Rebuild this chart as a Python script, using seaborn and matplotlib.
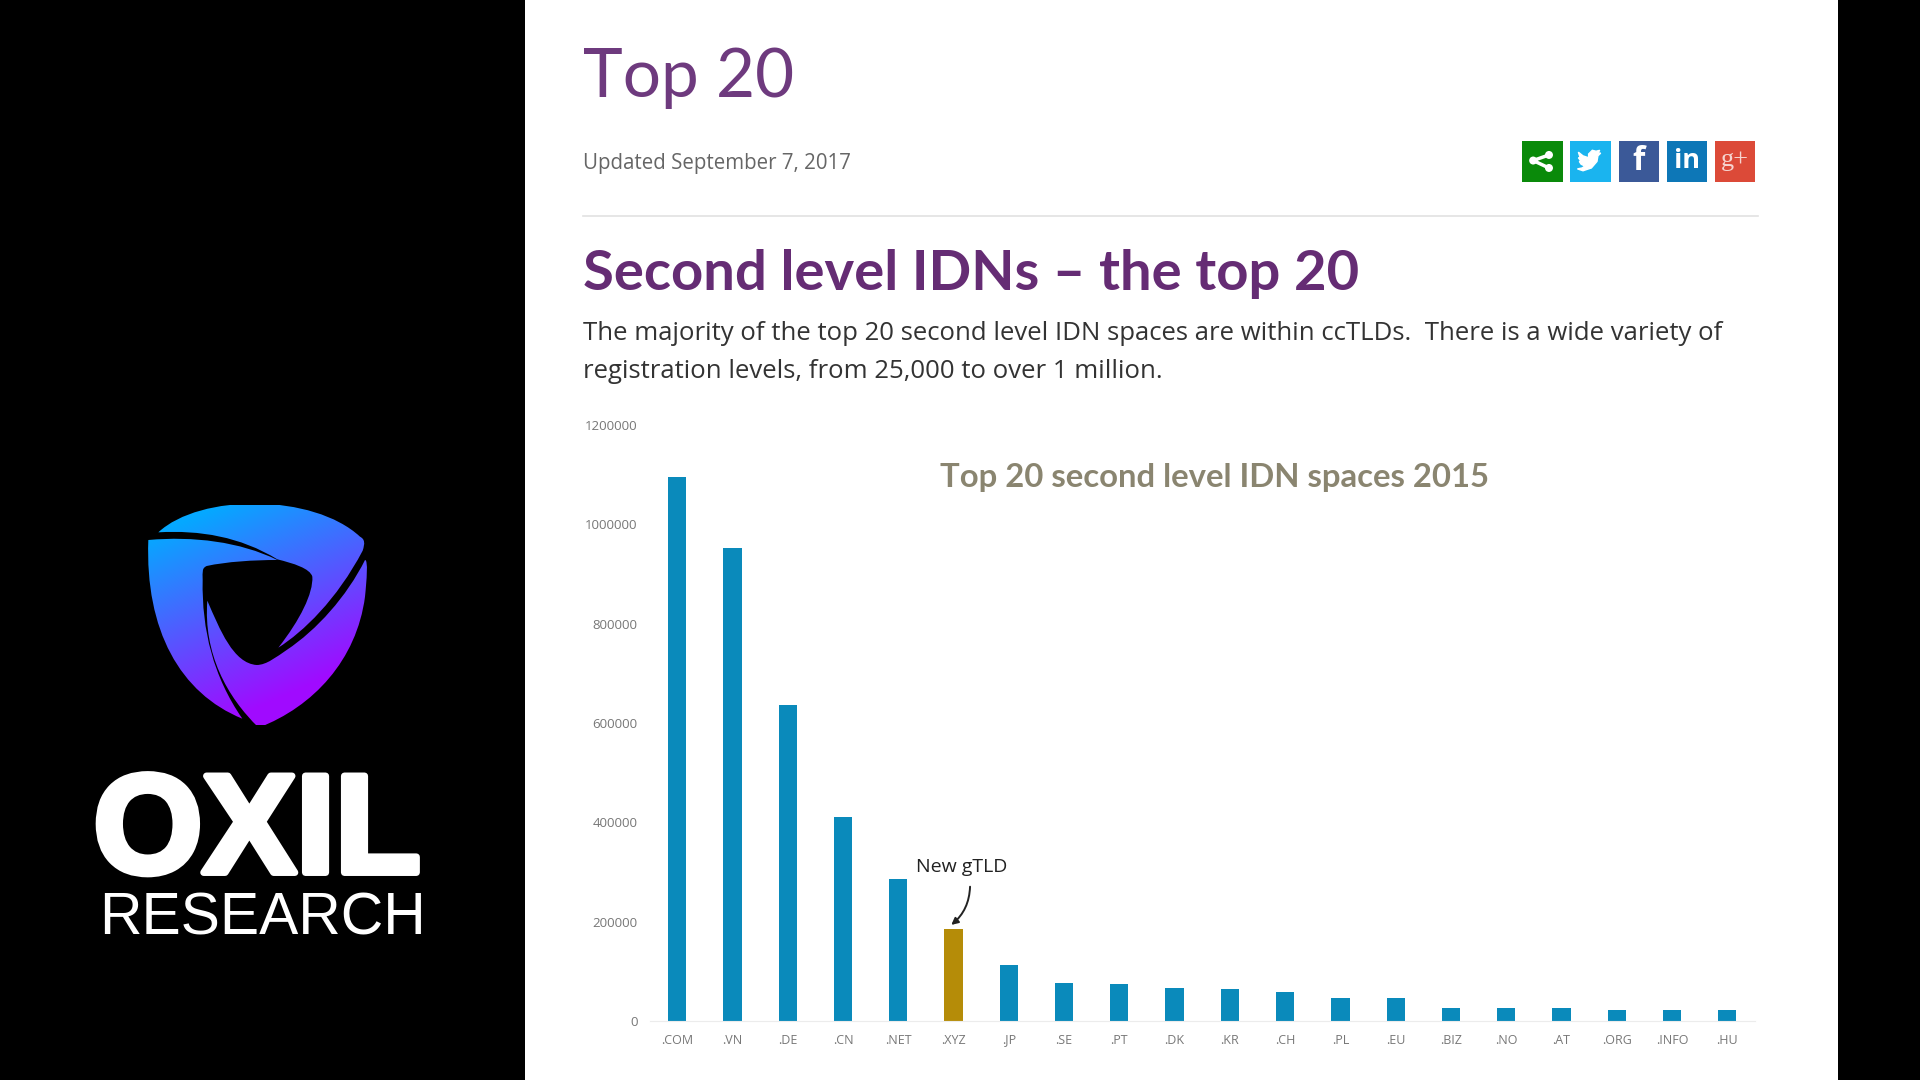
import pandas as pd
import matplotlib.pyplot as plt
import matplotlib.patheffects as pe
import seaborn as sns
import numpy as np
from matplotlib.path import Path
from matplotlib.patches import PathPatch, Rectangle, Circle

BLUE = "#0a8abb"
GOLD = "#b58c08"
PURPLE = "#652c74"


def load_data() -> pd.DataFrame:
    rows = [
        (".COM", 1096000), (".VN", 953000), (".DE", 636000), (".CN", 411000),
        (".NET", 286000), (".XYZ", 185000), (".JP", 113000), (".SE", 76000),
        (".PT", 74000), (".DK", 67000), (".KR", 64000), (".CH", 59000),
        (".PL", 47000), (".EU", 47000), (".BIZ", 27000), (".NO", 27000),
        (".AT", 26000), (".ORG", 22000), (".INFO", 22000), (".HU", 22000),
    ]
    df = pd.DataFrame(rows, columns=["tld", "regs"])
    df["kind"] = ["new" if t == ".XYZ" else "old" for t in df["tld"]]
    return df


def curve(start, *segments):
    """Build a closed path from cubic segments"""
    verts = [start]
    codes = [Path.MOVETO]
    for seg in segments:
        verts.extend(seg)
        codes.extend([Path.CURVE4] * 3)
    verts.append(start)
    codes.append(Path.CLOSEPOLY)
    return Path(verts, codes)


def draw_logo(ax):
    """Shield with a gradient, coordinates are from the 3x crop of the logo"""
    top = curve((295, 157),
                [(420, 40), (760, 40), (900, 170)],
                [(915, 178), (915, 190), (908, 212)],
                [(830, 360), (730, 455), (655, 503)],
                [(720, 420), (760, 340), (757, 290)],
                [(750, 265), (700, 250), (652, 238)],
                [(540, 170), (420, 150), (295, 157)])
    left = curve((265, 180),
                 [(400, 168), (540, 185), (652, 240)],
                 [(580, 240), (500, 245), (440, 258)],
                 [(425, 265), (428, 275), (428, 300)],
                 [(425, 450), (460, 590), (547, 716)],
                 [(360, 640), (255, 450), (265, 180)],
                 [(265, 180), (265, 180), (265, 180)])
    bottom = curve((442, 362),
                   [(480, 450), (520, 550), (590, 555)],
                   [(620, 555), (650, 530), (680, 510)],
                   [(770, 450), (860, 350), (915, 240)],
                   [(925, 240), (920, 300), (915, 350)],
                   [(890, 540), (760, 680), (596, 743)],
                   [(500, 650), (430, 520), (442, 362)])
    shield = Path.make_compound_path(top, left, bottom)
    shield = Path(shield.vertices / 3 + [60, 480], shield.codes)

    # diagonal gradient, blue at top left to violet at bottom right
    xx, yy = np.meshgrid(np.linspace(0, 1, 200), np.linspace(0, 1, 200))
    t = np.clip((xx * 0.45 + yy * 1.0 - 0.15) / 1.0, 0, 1)[..., None]
    c0 = np.array([0.02, 0.66, 1.0])
    c1 = np.array([0.63, 0.04, 1.0])
    img = ax.imshow(c0 + (c1 - c0) * t, extent=(145, 370, 725, 505), aspect="auto", zorder=2)
    patch = PathPatch(shield, transform=ax.transData, fc="none", ec="none")
    ax.add_patch(patch)
    img.set_clip_path(patch)

    ax.text(257, 822, "OXIL", color="white", fontsize=101, fontweight="bold", family="Liberation Sans",
            ha="center", va="center_baseline",
            path_effects=[pe.withStroke(linewidth=5, foreground="white")])
    ax.text(262, 913, "RESEARCH", color="white", fontsize=42.3, family="Liberation Sans",
            ha="center", va="center_baseline")


def draw_icons(ax):
    """Row of share buttons"""
    y0 = 141
    size = 40.5
    k = 0.93  # glyph offsets were measured on a slightly larger grid
    for x0, col in zip([1522, 1570, 1618.5, 1666.5, 1714.5], ["#0a8a0a", "#1ab4ef", "#3b5998", "#0d77b7", "#dc4a38"]):
        ax.add_patch(Rectangle((x0, y0), size, size, fc=col, ec="none", zorder=2))

    # share
    for px, py in [(12, 21), (29, 15), (29, 29)]:
        ax.add_patch(Circle((1522 + px * k, y0 + py * k), 4, fc="white", ec="none", zorder=3))
    ax.plot([1522 + 29 * k, 1522 + 12 * k, 1522 + 29 * k], [y0 + 15 * k, y0 + 21 * k, y0 + 29 * k],
            color="white", lw=2.5, zorder=3)

    # twitter
    bird = np.array([(9, 12), (14, 16), (20, 18), (20, 14), (24, 10), (28, 11), (32, 10), (30, 13), (33, 13),
                     (30, 16), (29, 22), (23, 29), (14, 32), (8, 30), (13, 29), (16, 27), (12, 25), (10, 22),
                     (12, 22), (9, 18), (11, 18)], dtype=float) * k
    ax.fill(bird[:, 0] + 1570, bird[:, 1] + y0, color="white", zorder=3)

    ax.text(1638.7, y0 + 20.5, "f", color="white", fontsize=23, fontweight="bold", family="Open Sans",
            ha="center", va="center", zorder=3)
    ax.text(1686.7, y0 + 20, "in", color="white", fontsize=19.5, fontweight="bold", family="Open Sans",
            ha="center", va="center", zorder=3)
    ax.text(1734.7, y0 + 19, "g+", color="#f6d5d0", fontsize=19, family="Liberation Serif",
            ha="center", va="center", zorder=3)


def draw_page():
    """Black frame, white page and the texts of the page"""
    ax = plt.axes([0, 0, 1, 1], zorder=0)
    ax.set_xlim(0, 1920)
    ax.set_ylim(1080, 0)
    ax.axis("off")
    ax.add_patch(Rectangle((525, 0), 1313, 1080, fc="white", ec="none", zorder=1))

    draw_logo(ax)
    draw_icons(ax)
    ax.set_xlim(0, 1920)
    ax.set_ylim(1080, 0)

    ax.text(583, 78, "Top 20", color="#6e3a7e", fontsize=48.5, family="Lato", va="center", zorder=3)
    ax.text(583, 164, "Updated September 7, 2017", color="#666666", fontsize=14.8, family="Open Sans", va="center", zorder=3)
    ax.plot([583, 1758], [215.5, 215.5], color="#e2e2e2", lw=1.2, zorder=3)
    ax.text(583, 274, "Second level IDNs – the top 20", color=PURPLE, fontsize=40.5, fontweight="bold", family="Lato",
            va="center", zorder=3)
    ax.text(583, 333, "The majority of the top 20 second level IDN spaces are within ccTLDs.  There is a wide variety of",
            color="#333333", fontsize=18.5, family="Open Sans", va="center", zorder=3)
    ax.text(583, 371, "registration levels, from 25,000 to over 1 million.",
            color="#333333", fontsize=18.5, family="Open Sans", va="center", zorder=3)
    ax.text(1215, 478, "Top 20 second level IDN spaces 2015", color="#8a8570", fontsize=23.7, fontweight="bold", family="Lato",
            ha="center", va="center", zorder=3)


def quick_plot(df: pd.DataFrame, save_path: str = None):
    """Create the page and the bar chart and save it"""
    plt.figure(figsize=(19.2, 10.8), dpi=100, facecolor="black")
    draw_page()

    plt.axes([649.5 / 1920, 1 - 1021 / 1080, 1105.5 / 1920, 596 / 1080], zorder=1, facecolor="none")
    sns.barplot(data=df, x="tld", y="regs", hue="kind", palette={"old": BLUE, "new": GOLD}, dodge=False,
                width=0.33, saturation=1, legend=False)
    plt.ylim(0, 1200000)
    plt.xlim(-0.5, 19.5)
    plt.xlabel("")
    plt.ylabel("")
    plt.ticklabel_format(axis="y", style="plain")
    plt.yticks(range(0, 1200001, 200000), fontsize=9.5, color="#777777", family="Open Sans")
    plt.xticks(fontsize=9, color="#777777", family="Open Sans")
    plt.tick_params(length=0, axis="both")
    plt.tick_params(axis="x", pad=9)
    plt.tick_params(axis="y", pad=8.5)
    ax = plt.gca()
    for side in ["top", "right", "left"]:
        ax.spines[side].set_visible(False)
    ax.spines["bottom"].set_color("#ececec")

    plt.text(5.15, 310000, "New gTLD", fontsize=14, color="#222222", family="Open Sans", ha="center", va="center")
    plt.annotate("", xy=(4.92, 190000), xytext=(5.30, 276000),
                 arrowprops=dict(arrowstyle="-|>", color="#222222", lw=1.4, connectionstyle="arc3,rad=-0.25"))

    if save_path:
        plt.savefig(save_path, facecolor="black")
        print(f"   Plot saved: {save_path}")
    plt.close()


quick_plot(load_data(), "out.png")
